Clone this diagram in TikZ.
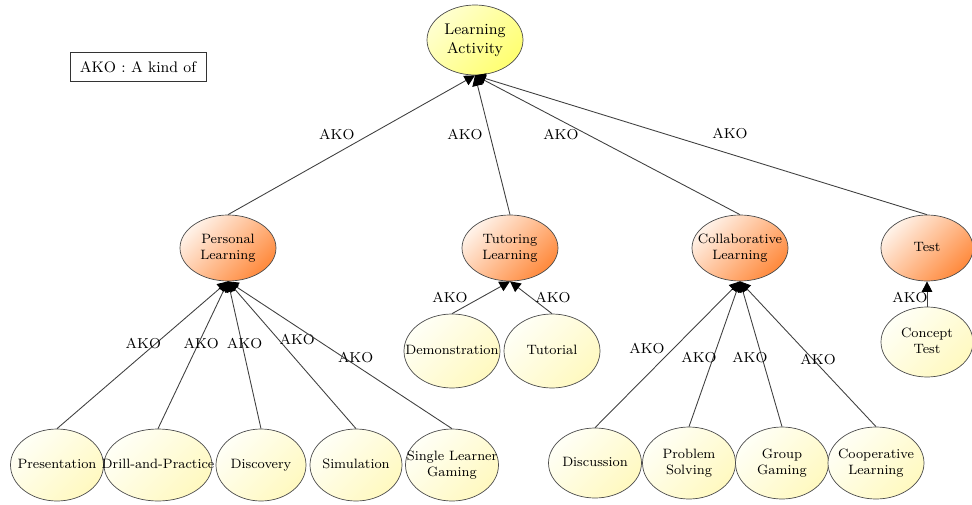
\documentclass[tikz,border=0pt]{standalone}
\usetikzlibrary{arrows,arrows.meta}
\usetikzlibrary{shapes.geometric,calc}
\usepackage{xcolor}
\definecolor{rootyellow}{HTML}{FFFF70}
\definecolor{rootlight}{HTML}{FFFFD0}
\definecolor{midorange}{HTML}{FF8A3D}
\definecolor{midlight}{HTML}{FFF2E8}
\definecolor{leafyellow}{HTML}{FFF9C0}
\definecolor{leaflight}{HTML}{FFFFF6}
\definecolor{edgegray}{HTML}{404040}
\tikzstyle{akoarrow} = [draw=edgegray, line width=0.5pt, -{Triangle[length=6pt,width=6pt,color=black]}]
\newcommand{\ellipsetext}[1]{\makebox[0pt]{\begin{tabular}{@{}c@{}}#1\end{tabular}}}

\begin{document}
\begin{tikzpicture}[
            node distance=4.16cm,
            every node/.style={text centered, font=\fontsize{7.7}{9.4}\selectfont},
            root/.style={ellipse, draw=black!70, top color=rootlight, bottom color=rootyellow, shading angle=45, minimum width=1.92cm, minimum height=1.40cm, inner sep=0pt, font=\fontsize{8.8}{11}\selectfont},
            middle/.style={ellipse, draw=black!70, top color=midlight, bottom color=midorange, shading angle=45, minimum width=1.92cm, minimum height=1.32cm, inner sep=0pt},
            leaf/.style={ellipse, draw=black!70, top color=leaflight, bottom color=leafyellow, shading angle=45, minimum width=1.86cm, minimum height=1.44cm, inner sep=0pt},
            legend/.style={rectangle, draw=black!80, minimum width=2.72cm, minimum height=0.58cm, font=\fontsize{8.7}{10}\selectfont},
            ako/.style={inner sep=1pt, font=\fontsize{8.2}{10}\selectfont}
        ]
            \useasboundingbox (-9.5,0.8) rectangle (9.94,-9.28);

            % Nodes
            \node (la) [root] {\ellipsetext{Learning\\Activity}};
            \node (key) [legend, left of=la, xshift=-2.58cm, yshift=-0.54cm] {AKO : A kind of};

            \node (personal) [middle, below of=la, xshift=-4.94cm] {\ellipsetext{Personal\\Learning}};
            \node (tutoring) [middle, below of=la, xshift=0.70cm] {\ellipsetext{Tutoring\\Learning}};
            \node (collab) [middle, below of=la, xshift=5.30cm] {\ellipsetext{Collaborative\\Learning}};
            \node (test) [middle, below of=la, xshift=9.04cm, minimum width=1.84cm] {\ellipsetext{Test}};

            \node (pres) [leaf, below of=personal, xshift=-3.42cm, yshift=-0.18cm] {\ellipsetext{Presentation}};
            \node (drill) [leaf, below of=personal, xshift=-1.40cm, yshift=-0.18cm, minimum width=2.16cm] {\ellipsetext{Drill-and-Practice}};
            \node (discovery) [leaf, below of=personal, xshift=0.66cm, yshift=-0.18cm, minimum width=1.80cm] {\ellipsetext{Discovery}};
            \node (sim) [leaf, below of=personal, xshift=2.56cm, yshift=-0.18cm, minimum width=1.84cm] {\ellipsetext{Simulation}};
            \node (single) [leaf, below of=personal, xshift=4.48cm, yshift=-0.18cm] {\ellipsetext{Single Learner\\Gaming}};

            \node (demo) [leaf, below of=tutoring, xshift=-1.16cm, yshift=2.10cm, minimum width=1.92cm, minimum height=1.48cm] {\ellipsetext{Demonstration}};
            \node (tutorial) [leaf, below of=tutoring, xshift=0.84cm, yshift=2.10cm, minimum width=1.92cm, minimum height=1.48cm] {\ellipsetext{Tutorial}};

            \node (discussion) [leaf, below of=collab, xshift=-2.90cm, yshift=-0.14cm, minimum height=1.40cm] {\ellipsetext{Discussion}};
            \node (problem) [leaf, below of=collab, xshift=-1.02cm, yshift=-0.14cm] {\ellipsetext{Problem\\Solving}};
            \node (group) [leaf, below of=collab, xshift=0.84cm, yshift=-0.14cm] {\ellipsetext{Group\\Gaming}};
            \node (coop) [leaf, below of=collab, xshift=2.72cm, yshift=-0.14cm, minimum width=1.92cm] {\ellipsetext{Cooperative\\Learning}};

            \node (concept) [leaf, below of=test, yshift=2.28cm, minimum width=1.84cm, minimum height=1.40cm] {\ellipsetext{Concept\\Test}};

            % Arrows
            \draw [akoarrow] (personal.north) -- (la.south) node[ako, pos=0.574, xshift=-0.66cm] {AKO};
            \draw [akoarrow] (tutoring.north) -- (la.south) node[ako, pos=0.574, xshift=-0.50cm] {AKO};
            \draw [akoarrow] (collab.north) -- (la.south) node[ako, pos=0.574, xshift=-0.54cm] {AKO};
            \draw [akoarrow] (test.north) -- (la.south) node[ako, pos=0.436, yshift=0.40cm] {AKO};

            \draw [akoarrow] (pres.north) -- (personal.south) node[ako, pos=0.575, xshift=-0.24cm] {AKO};
            \draw [akoarrow] (drill.north) -- (personal.south) node[ako, pos=0.575, xshift=0.06cm] {AKO};
            \draw [akoarrow] (discovery.north) -- (personal.south) node[ako, pos=0.575, xshift=0.05cm] {AKO};
            \draw [akoarrow] (sim.north) -- (personal.south) node[ako, pos=0.608, xshift=0.38cm] {AKO};
            \draw [akoarrow] (single.north) -- (personal.south) node[ako, pos=0.486, xshift=0.25cm] {AKO};

            \draw [akoarrow] (demo.north) -- (tutoring.south) node[ako, pos=0.5, xshift=-0.62cm] {AKO};
            \draw [akoarrow] (tutorial.north) -- (tutoring.south) node[ako, pos=0.5, xshift=0.44cm] {AKO};

            \draw [akoarrow] (discussion.north) -- (collab.south) node[ako, pos=0.541, xshift=-0.53cm] {AKO};
            \draw [akoarrow] (problem.north) -- (collab.south) node[ako, pos=0.479, xshift=-0.29cm] {AKO};
            \draw [akoarrow] (group.north) -- (collab.south) node[ako, pos=0.479, xshift=-0.24cm] {AKO};
            \draw [akoarrow] (coop.north) -- (collab.south) node[ako, pos=0.459, xshift=0.09cm] {AKO};

            \draw [akoarrow] (concept.north) -- (test.south) node[ako, pos=0.36, xshift=-0.34cm] {AKO};
        \end{tikzpicture}
\end{document}
